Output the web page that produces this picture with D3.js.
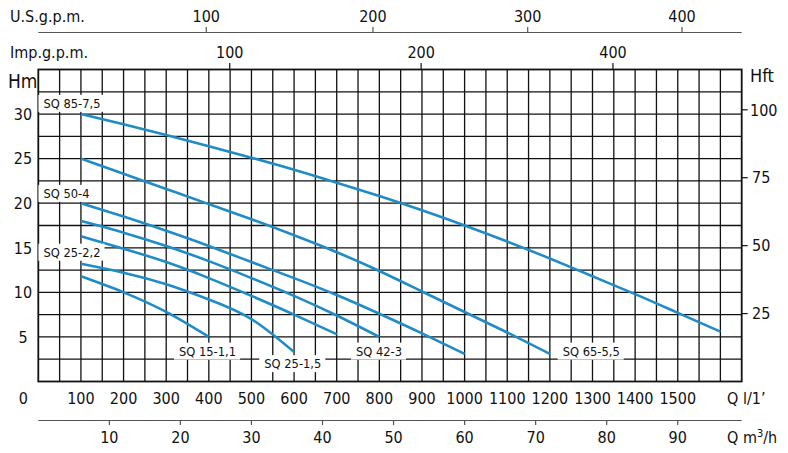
<!DOCTYPE html>
<html lang="en">

<head>
    <meta charset="UTF-8">
    <title>SQ pump curves</title>
    <script src="https://d3js.org/d3.v7.min.js"></script>
    <style>
        body {
            margin: 0;
            background: white;
        }

        .tick-label {
            font-family: "Liberation Sans Narrow", "DejaVu Sans Condensed", sans-serif;
            font-size: 16px;
            fill: #111;
        }

        .curve-label {
            font-family: "DejaVu Sans", sans-serif;
            font-size: 11.5px;
            fill: #111;
        }
    </style>
</head>

<body>
    <div id="chart"></div>
    <script>
        // flow in l/min, head in m
        const pumps = ["SQ 85-7,5", "SQ 65-5,5", "SQ 50-4", "SQ 42-3", "SQ 25-2,2", "SQ 25-1,5", "SQ 15-1,1"];

        const flow857 = [100, 200, 300, 400, 500, 600, 700, 800, 900, 1000, 1100, 1200, 1300, 1400, 1500, 1600];
        const head857 = [30, 28.85, 27.65, 26.4, 25.1, 23.75, 22.3, 20.8, 19.2, 17.5, 15.7, 13.8, 11.8, 9.8, 7.7, 5.6];

        const flow655 = [100, 200, 300, 400, 500, 600, 700, 800, 900, 1000, 1100, 1200];
        const head655 = [25, 23.3, 21.6, 19.9, 18.2, 16.4, 14.5, 12.4, 10.1, 7.8, 5.5, 3.1];

        const flow504 = [100, 200, 300, 400, 500, 600, 700, 800, 900, 1000];
        const head504 = [20, 18.5, 16.9, 15.2, 13.4, 11.6, 9.7, 7.6, 5.4, 3.1];

        const flow423 = [100, 200, 300, 400, 500, 600, 700, 800];
        const head423 = [18, 16.7, 15.2, 13.5, 11.6, 9.6, 7.4, 5.0];

        const flow2522 = [100, 200, 300, 400, 500, 600, 700];
        const head2522 = [16.3, 14.9, 13.4, 11.6, 9.6, 7.5, 5.3];

        const flow2515 = [100, 200, 300, 400, 500, 600];
        const head2515 = [13.2, 12.2, 10.9, 9.2, 7.0, 3.3];

        const flow1511 = [100, 200, 300, 400];
        const head1511 = [11.8, 10.0, 7.8, 5.0];

        // where each name sits (flow, head of the text baseline)
        const labelFlow = [12, 1230, 12, 745, 12, 530, 330];
        const labelHead = [30.7, 2.9, 20.6, 2.9, 14.0, 1.5, 2.9];

        // axis ticks
        const flowTicks = [100, 200, 300, 400, 500, 600, 700, 800, 900, 1000, 1100, 1200, 1300, 1400, 1500];
        const headTicks = [5, 10, 15, 20, 25, 30];
        const feetTicks = [25, 50, 75, 100];
        const m3hTicks = [10, 20, 30, 40, 50, 60, 70, 80, 90];
        const usTicks = [100, 200, 300, 400];
        const usTickFlow = [394, 785, 1148, 1510];      // l/min where each US gpm tick sits
        const impTickLabels = ["100", "200", "400"];
        const impTickFlow = [449, 898, 1348];           // l/min where each Imp gpm tick sits

        const series = [
            [flow857, head857], [flow655, head655], [flow504, head504], [flow423, head423],
            [flow2522, head2522], [flow2515, head2515], [flow1511, head1511]
        ].map(([f, h], i) => ({ name: pumps[i], points: f.map((q, j) => [q, h[j]]) }));

        const width = 788, height = 453;
        const x = d3.scaleLinear().domain([0, 1650]).range([38.3, 741.7]);
        const y = d3.scaleLinear().domain([0, 35]).range([381.5, 69.5]);
        const usX = d3.scaleLinear().domain(usTicks).range(usTickFlow.map(x));

        const svg = d3.select("#chart").append("svg")
            .attr("width", width)
            .attr("height", height);

        // grid
        const grid = svg.append("g").attr("stroke", "#111").attr("stroke-width", 1.3);
        grid.selectAll(".v")
            .data(d3.range(50, 1650, 50))
            .join("line")
            .attr("x1", d => x(d)).attr("x2", d => x(d))
            .attr("y1", y(0)).attr("y2", y(35));
        grid.selectAll(".h")
            .data(d3.range(2.5, 35, 2.5))
            .join("line")
            .attr("x1", x(0)).attr("x2", x(1650))
            .attr("y1", d => y(d)).attr("y2", d => y(d));

        // frame
        svg.append("rect")
            .attr("x", x(0)).attr("y", y(35))
            .attr("width", x(1650) - x(0)).attr("height", y(0) - y(35))
            .attr("fill", "none").attr("stroke", "#111").attr("stroke-width", 1.8);

        // curves
        const line = d3.line()
            .x(d => x(d[0]))
            .y(d => y(d[1]))
            .curve(d3.curveNatural);

        svg.append("g")
            .selectAll("path")
            .data(series)
            .join("path")
            .attr("d", d => line(d.points))
            .attr("fill", "none")
            .attr("stroke", "#1f8cc6")
            .attr("stroke-width", 2.6);

        // curve labels with white boxes
        const labels = svg.append("g")
            .selectAll("g")
            .data(pumps)
            .join("g")
            .attr("transform", (d, i) => `translate(${x(labelFlow[i])},${y(labelHead[i])})`);
        labels.append("text")
            .attr("class", "curve-label")
            .text(d => d);
        labels.each(function () {
            const g = d3.select(this);
            const b = g.select("text").node().getBBox();
            g.insert("rect", "text")
                .attr("x", b.x - 5).attr("y", b.y - 2)
                .attr("width", b.width + 9).attr("height", b.height + 3)
                .attr("fill", "white");
        });

        // left axis (m)
        svg.append("g")
            .selectAll("text")
            .data(headTicks)
            .join("text")
            .attr("class", "tick-label")
            .attr("x", 23).attr("y", d => y(d))
            .attr("dy", "0.36em")
            .attr("text-anchor", "middle")
            .text(d => d);
        svg.append("text").attr("class", "tick-label")
            .attr("x", 8).attr("y", 88).style("font-size", "19px").text("Hm");

        // right axis (ft)
        const ftY = d => y(d * 0.3048);
        const right = svg.append("g");
        right.selectAll("line")
            .data(feetTicks)
            .join("line")
            .attr("x1", x(1650)).attr("x2", x(1650) + 6)
            .attr("y1", ftY).attr("y2", ftY)
            .attr("stroke", "#111").attr("stroke-width", 1.2);
        right.selectAll("text")
            .data(feetTicks)
            .join("text")
            .attr("class", "tick-label")
            .attr("x", d => d < 100 ? 752 : 750).attr("y", ftY)
            .attr("dy", "0.36em")
            .text(d => d);
        svg.append("text").attr("class", "tick-label")
            .attr("x", 750).attr("y", 82).style("font-size", "18px").text("Hft");

        // bottom l/min labels
        svg.append("g")
            .selectAll("text")
            .data([0].concat(flowTicks))
            .join("text")
            .attr("class", "tick-label")
            .attr("x", d => d === 0 ? x(0) - 15 : x(d))
            .attr("y", 398.5)
            .attr("dy", "0.36em")
            .attr("text-anchor", "middle")
            .text(d => d);
        svg.append("text").attr("class", "tick-label")
            .attr("x", 727).attr("y", 404).text("Q  l/1\u2019");

        // bottom m3/h axis
        const m3 = svg.append("g");
        m3.append("line")
            .attr("x1", x(0)).attr("x2", x(1650))
            .attr("y1", 420.5).attr("y2", 420.5)
            .attr("stroke", "#555").attr("stroke-width", 1.2);
        m3.selectAll("line.t")
            .data(m3hTicks)
            .join("line")
            .attr("class", "t")
            .attr("x1", d => x(d * 1000 / 60)).attr("x2", d => x(d * 1000 / 60))
            .attr("y1", 420.5).attr("y2", 425)
            .attr("stroke", "#555").attr("stroke-width", 1.2);
        m3.selectAll("text")
            .data(m3hTicks)
            .join("text")
            .attr("class", "tick-label")
            .attr("x", d => x(d * 1000 / 60))
            .attr("y", 437)
            .attr("dy", "0.36em")
            .attr("text-anchor", "middle")
            .text(d => d);
        const qm = svg.append("text").attr("class", "tick-label")
            .attr("x", 727).attr("y", 443);
        qm.append("tspan").text("Q  m");
        qm.append("tspan").attr("dy", -6).style("font-size", "11px").text("3");
        qm.append("tspan").attr("dy", 6).text("/h");

        // top US gpm axis
        const us = svg.append("g");
        us.append("line")
            .attr("x1", x(0)).attr("x2", x(1650))
            .attr("y1", 32.5).attr("y2", 32.5)
            .attr("stroke", "#555").attr("stroke-width", 1.2);
        us.selectAll("line.t")
            .data(usTicks)
            .join("line")
            .attr("class", "t")
            .attr("x1", usX).attr("x2", usX)
            .attr("y1", 27).attr("y2", 32.5)
            .attr("stroke", "#555").attr("stroke-width", 1.2);
        us.selectAll("text")
            .data(usTicks)
            .join("text")
            .attr("class", "tick-label")
            .attr("x", usX).attr("y", 16)
            .attr("dy", "0.36em")
            .attr("text-anchor", "middle")
            .text(d => d);
        svg.append("text").attr("class", "tick-label")
            .attr("x", 10).attr("y", 22).text("U.S.g.p.m.");

        // top Imp gpm ticks
        const imp = svg.append("g");
        imp.selectAll("line")
            .data(impTickFlow)
            .join("line")
            .attr("x1", d => x(d)).attr("x2", d => x(d))
            .attr("y1", 63).attr("y2", y(35))
            .attr("stroke", "#111").attr("stroke-width", 1.2);
        imp.selectAll("text")
            .data(impTickFlow)
            .join("text")
            .attr("class", "tick-label")
            .attr("x", d => x(d)).attr("y", 52.5)
            .attr("dy", "0.36em")
            .attr("text-anchor", "middle")
            .text((d, i) => impTickLabels[i]);
        svg.append("text").attr("class", "tick-label")
            .attr("x", 10).attr("y", 58).text("Imp.g.p.m.");
    </script>
</body>

</html>
